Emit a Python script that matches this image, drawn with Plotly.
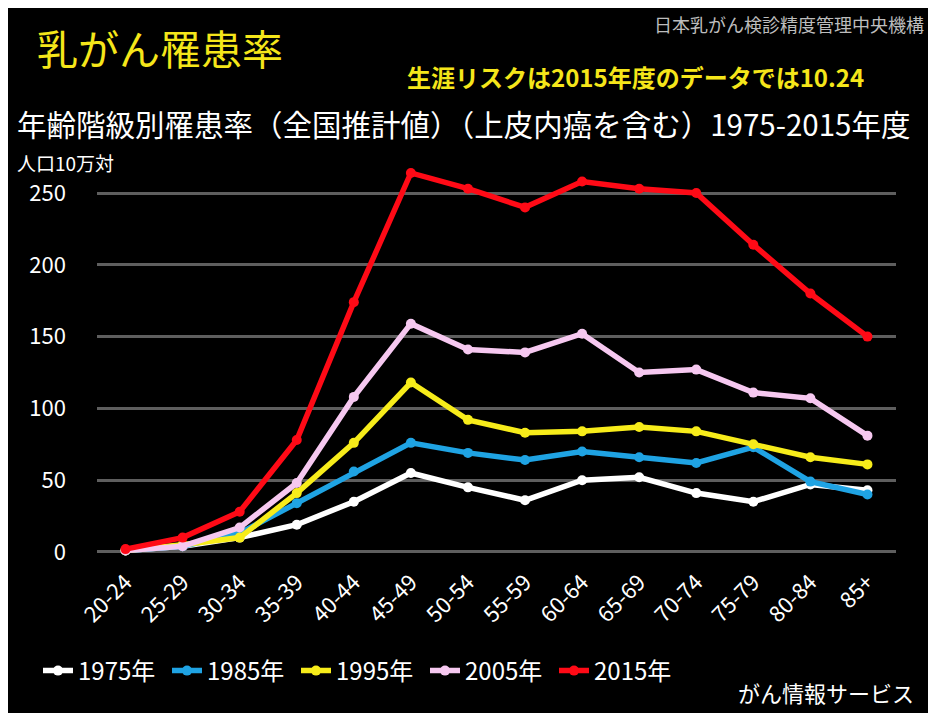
import plotly.graph_objects as go

categories = ["20-24", "25-29", "30-34", "35-39", "40-44", "45-49", "50-54",
              "55-59", "60-64", "65-69", "70-74", "75-79", "80-84", "85+"]
y1975 = [1, 4, 10, 19, 35, 55, 45, 36, 50, 52, 41, 35, 47, 43]
y1985 = [1, 4, 13, 34, 56, 76, 69, 64, 70, 66, 62, 73, 49, 40]
y1995 = [1, 5, 10, 41, 76, 118, 92, 83, 84, 87, 84, 75, 66, 61]
y2005 = [1, 4, 17, 48, 108, 159, 141, 139, 152, 125, 127, 111, 107, 81]
y2015 = [2, 10, 28, 78, 174, 264, 253, 240, 258, 253, 250, 214, 180, 150]
series_names = ["1975年", "1985年", "1995年", "2005年", "2015年"]
series_vals = [y1975, y1985, y1995, y2005, y2015]
colors = ["#ffffff", "#1fa3e3", "#f7ec1a", "#f6c8f0", "#ff0a16"]

OFF = 8  # page body margin
W, H = 936 - 2 * OFF, 721 - 2 * OFF
L, R, T, B = 97 - OFF, 896 - OFF, 160 - OFF, 560 - OFF
FONT = "Noto Sans CJK JP"


def px(x):
    return (x - OFF - L) / (R - L)


def py(y):
    return (B - (y - OFF)) / (B - T)


fig = go.Figure()
for name, vals, c in zip(series_names, series_vals, colors):
    fig.add_trace(go.Scatter(
        x=categories, y=vals, name=name, mode="lines+markers",
        line=dict(color=c, width=5.5),
        marker=dict(color=c, size=10, symbol="circle"),
    ))

fig.update_layout(
    width=W, height=H,
    margin=dict(l=L, r=W - R, t=T, b=H - B),
    paper_bgcolor="#000000",
    plot_bgcolor="#000000",
    font=dict(family=FONT, color="#ffffff"),
    showlegend=True,
    legend=dict(orientation="h", x=px(38), y=py(671), xanchor="left", yanchor="middle",
                font=dict(size=24, color="#ffffff", family=FONT),
                bgcolor="rgba(0,0,0,0)", itemwidth=30, entrywidth=84,
                entrywidthmode="pixels", tracegroupgap=0),
    xaxis=dict(type="category", range=[-0.5, 13.5], showgrid=False, zeroline=False,
               showline=False, tickangle=-45, ticklabelstandoff=4,
               tickfont=dict(size=22, color="#ffffff", family=FONT), ticks=""),
    yaxis=dict(range=[-5.6, 273], tickvals=[0, 50, 100, 150, 200, 250],
               showgrid=True, gridcolor="#5e5e5e", gridwidth=2.5, zeroline=False,
               showline=False, ticks="", ticklabelstandoff=30,
               tickfont=dict(size=22, color="#ffffff", family=FONT)),
)

ann = [
    dict(text="乳がん罹患率", x=px(35), y=py(47), xanchor="left", yanchor="middle",
         font=dict(size=41, color="#f5e61a", family=FONT)),
    dict(text="<b>生涯リスクは2015年度のデータでは10.24</b>", x=px(866), y=py(76),
         xanchor="right", yanchor="middle",
         font=dict(size=24, color="#f5e61a", family=FONT)),
    dict(text="年齢階級別罹患率（全国推計値）（上皮内癌を含む）1975-2015年度",
         x=px(912), y=py(123), xanchor="right", yanchor="middle",
         font=dict(size=29.5, color="#ffffff", family=FONT)),
    dict(text="人口10万対", x=px(15), y=py(163), xanchor="left", yanchor="middle",
         font=dict(size=19, color="#ffffff", family=FONT)),
    dict(text="日本乳がん検診精度管理中央機構", x=px(926), y=py(24),
         xanchor="right", yanchor="middle",
         font=dict(size=18, color="#bdbdbd", family=FONT)),
    dict(text="がん情報サービス", x=px(916), y=py(692), xanchor="right", yanchor="middle",
         font=dict(size=22, color="#ffffff", family=FONT)),
]
for a in ann:
    a.update(xref="paper", yref="paper", showarrow=False)
fig.update_layout(annotations=ann)

fig.write_html("out.html")
